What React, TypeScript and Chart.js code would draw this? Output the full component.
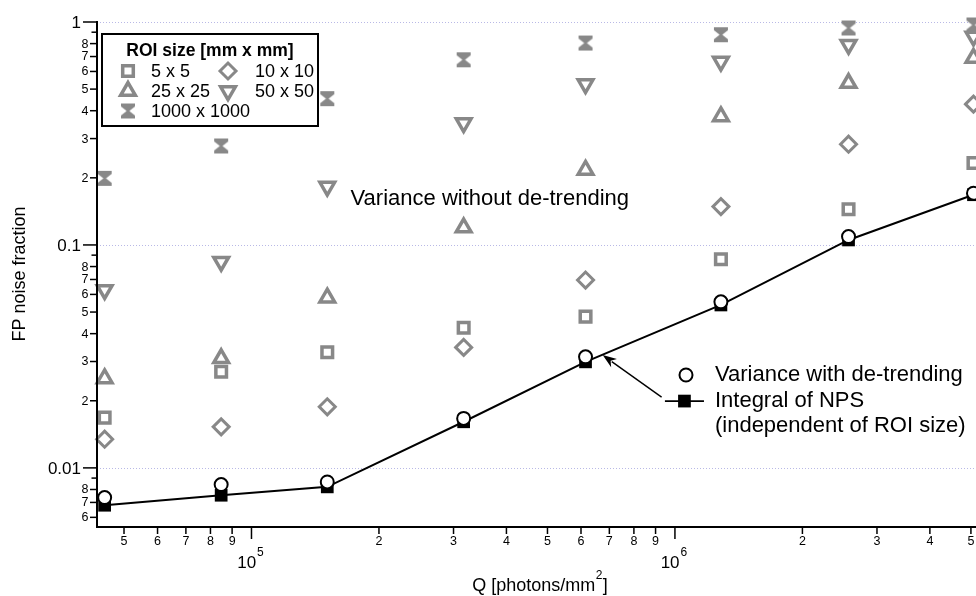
import React, { useEffect, useRef } from 'react';
import { Chart, registerables } from 'chart.js';
import { drawPoint } from 'chart.js/helpers';

Chart.register(...registerables);

// ---------------- data ----------------
const qValues = [45000, 84800, 151000, 317000, 615000, 1284000, 2570000, 5070000];

const roi5x5 = [0.0168, 0.027, 0.033, 0.0425, 0.0477, 0.0863, 0.1446, 0.233];
const roi10x10 = [0.01345, 0.01528, 0.0188, 0.0347, 0.0696, 0.1486, 0.283, 0.428];
const roi25x25 = [0.0252, 0.031, 0.058, 0.1196, 0.217, 0.377, 0.532, 0.689];
const roi50x50 = [0.0628, 0.0841, 0.1827, 0.352, 0.527, 0.665, 0.791, 0.862];
const roi1000x1000 = [0.199, 0.278, 0.453, 0.677, 0.805, 0.877, 0.94, 0.97];
const varianceDetrended = [0.00736, 0.00842, 0.00865, 0.01667, 0.0315, 0.0556, 0.109, 0.1706];
const integralNPS = [0.0068, 0.00754, 0.00822, 0.0161, 0.0299, 0.0538, 0.1053, 0.168];

const roiLabels = ['5 x 5', '10 x 10', '25 x 25', '50 x 50', '1000 x 1000'];
const legendTitle = 'ROI size [mm x mm]';
const yTitle = 'FP noise fraction';
const xTitleMain = 'Q [photons/mm';
const xTitleSup = '2';
const xTitleEnd = ']';
const noteWithout = 'Variance without de-trending';
const noteWith = 'Variance with de-trending';
const noteNPS1 = 'Integral of NPS';
const noteNPS2 = '(independent of ROI size)';

const xMinorTicks = [5e4, 6e4, 7e4, 8e4, 9e4, 2e5, 3e5, 4e5, 5e5, 6e5, 7e5, 8e5, 9e5, 2e6, 3e6, 4e6, 5e6];
const xMinorLabels = ['5', '6', '7', '8', '9', '2', '3', '4', '5', '6', '7', '8', '9', '2', '3', '4', '5'];
const xMajorTicks = [1e5, 1e6];
const xMajorExps = ['5', '6'];

const yMajorTicks = [0.01, 0.1, 1];
const yMajorLabels = ['0.01', '0.1', '1'];
const yMinorTicks = [0.006, 0.007, 0.008, 0.009, 0.02, 0.03, 0.04, 0.05, 0.06, 0.07, 0.08, 0.09, 0.2, 0.3, 0.4, 0.5, 0.6, 0.7, 0.8, 0.9];
const yMinorLabels = ['6', '7', '8', '', '2', '3', '4', '5', '6', '7', '8', '', '2', '3', '4', '5', '6', '7', '8', ''];

const X_MIN = 43170;
const X_MAX = 5140000;
const Y_MIN = 0.005487;
const Y_MAX = 1;

// annotation anchors in data units
const noteWithoutPos = { x: 171400, y: 0.1609 };
const noteCirclePos = { x: 1062000, y: 0.0261 };
const noteTextX = 1243000;
const noteLineY = [0.0261, 0.01994, 0.01539];
const noteSquareLine = { x1: 947000, x2: 1171000 };
const arrowFrom = { x: 930000, y: 0.02077 };
const arrowTo = { x: 675000, y: 0.03207 };

// ---------------- styles ----------------
const FONT = '"Liberation Sans", Arial, Helvetica, sans-serif';
const GRAY = '#888888';

function makeHourglass(): HTMLCanvasElement {
  const c = document.createElement('canvas');
  c.width = 16;
  c.height = 17;
  const g = c.getContext('2d')!;
  g.fillStyle = GRAY;
  g.beginPath();
  g.moveTo(1, 1);
  g.lineTo(15, 1);
  g.lineTo(15, 4);
  g.lineTo(9.3, 8.5);
  g.lineTo(15, 13);
  g.lineTo(15, 16);
  g.lineTo(1, 16);
  g.lineTo(1, 13);
  g.lineTo(6.7, 8.5);
  g.lineTo(1, 4);
  g.closePath();
  g.fill();
  return c;
}

export default function App() {
  const ref = useRef<HTMLCanvasElement | null>(null);

  useEffect(() => {
    const canvas = ref.current;
    if (!canvas) return;
    const hourglass = makeHourglass();

    const markerDefs: any[] = [
      { pointStyle: 'rect', radius: 7.5, rotation: 0, borderWidth: 3.5 },
      { pointStyle: 'rectRot', radius: 8, rotation: 0, borderWidth: 3 },
      { pointStyle: 'triangle', radius: 8.5, rotation: 0, borderWidth: 3.5 },
      { pointStyle: 'triangle', radius: 8.5, rotation: 180, borderWidth: 3.5 },
      { pointStyle: hourglass, radius: 8, rotation: 0, borderWidth: 0 },
    ];
    const roiData = [roi5x5, roi10x10, roi25x25, roi50x50, roi1000x1000];

    const pts = (ys: number[]) => qValues.map((q, i) => ({ x: q, y: ys[i] }));

    const datasets: any[] = [
      {
        label: noteWith,
        data: pts(varianceDetrended),
        showLine: false,
        pointStyle: 'circle',
        pointRadius: 6.5,
        pointBorderWidth: 2,
        pointBackgroundColor: '#ffffff',
        pointBorderColor: '#000000',
        clip: false,
      },
      {
        label: noteNPS1,
        data: pts(integralNPS),
        showLine: true,
        borderColor: '#000000',
        borderWidth: 2,
        pointStyle: 'rect',
        pointRadius: 9,
        pointBorderWidth: 0,
        pointBackgroundColor: '#000000',
        pointBorderColor: '#000000',
        clip: false,
      },
    ];
    roiData.forEach((d, i) => {
      const m = markerDefs[i];
      datasets.push({
        label: roiLabels[i],
        data: pts(d),
        showLine: false,
        pointStyle: m.pointStyle,
        pointRadius: m.radius,
        pointRotation: m.rotation,
        pointBorderWidth: m.borderWidth,
        pointBackgroundColor: 'rgba(0,0,0,0)',
        pointBorderColor: GRAY,
        clip: false,
      });
    });

    const decor = {
      id: 'decor',
      beforeDatasetsDraw(chart: any) {
        const { ctx, chartArea } = chart;
        const ys = chart.scales.y;
        ctx.save();
        ctx.strokeStyle = '#b9b9e6';
        ctx.lineWidth = 1;
        ctx.setLineDash([1, 2]);
        yMajorTicks.forEach((v) => {
          const py = Math.round(ys.getPixelForValue(v)) + 0.5;
          ctx.beginPath();
          ctx.moveTo(chartArea.left, py);
          ctx.lineTo(chartArea.right, py);
          ctx.stroke();
        });
        ctx.restore();
      },
      afterDatasetsDraw(chart: any) {
        const { ctx, chartArea } = chart;
        const xs = chart.scales.x;
        const ys = chart.scales.y;
        const L = chartArea.left;
        const B = chartArea.bottom;
        ctx.save();
        ctx.setLineDash([]);
        ctx.strokeStyle = '#000';
        ctx.fillStyle = '#000';

        // axis lines
        ctx.lineWidth = 2;
        ctx.beginPath();
        ctx.moveTo(L, chartArea.top - 1);
        ctx.lineTo(L, B + 1);
        ctx.lineTo(chartArea.right, B + 1);
        ctx.stroke();

        // y ticks
        ctx.lineWidth = 1.5;
        yMajorTicks.forEach((v, i) => {
          const py = ys.getPixelForValue(v);
          ctx.beginPath();
          ctx.moveTo(L - 14, py);
          ctx.lineTo(L, py);
          ctx.stroke();
          ctx.font = `17px ${FONT}`;
          ctx.textAlign = 'right';
          ctx.textBaseline = 'middle';
          ctx.fillText(yMajorLabels[i], L - 16, py + 1);
        });
        yMinorTicks.forEach((v, i) => {
          const py = ys.getPixelForValue(v);
          const len = yMinorLabels[i] ? 7 : 5.5;
          ctx.beginPath();
          ctx.moveTo(L - len, py);
          ctx.lineTo(L, py);
          ctx.stroke();
          if (yMinorLabels[i]) {
            ctx.font = `12.5px ${FONT}`;
            ctx.textAlign = 'right';
            ctx.textBaseline = 'middle';
            ctx.fillText(yMinorLabels[i], L - 8.5, py + 0.5);
          }
        });

        // x ticks
        xMinorTicks.forEach((v, i) => {
          const px = xs.getPixelForValue(v);
          ctx.beginPath();
          ctx.moveTo(px, B + 1);
          ctx.lineTo(px, B + 8);
          ctx.stroke();
          ctx.font = `12.5px ${FONT}`;
          ctx.textAlign = 'center';
          ctx.textBaseline = 'middle';
          ctx.fillText(xMinorLabels[i], px, B + 16);
        });
        xMajorTicks.forEach((v, i) => {
          const px = xs.getPixelForValue(v);
          ctx.beginPath();
          ctx.moveTo(px, B + 1);
          ctx.lineTo(px, B + 13);
          ctx.stroke();
          ctx.font = `17px ${FONT}`;
          const wBase = ctx.measureText('10').width;
          ctx.font = `12px ${FONT}`;
          const wExp = ctx.measureText(xMajorExps[i]).width;
          const start = px - (wBase + wExp + 1) / 2 - 1;
          ctx.textAlign = 'left';
          ctx.textBaseline = 'middle';
          ctx.font = `17px ${FONT}`;
          ctx.fillText('10', start, B + 37);
          ctx.font = `12px ${FONT}`;
          ctx.fillText(xMajorExps[i], start + wBase + 1, B + 27);
        });

        // axis titles
        ctx.font = `18px ${FONT}`;
        const w1 = ctx.measureText(xTitleMain).width;
        const w3 = ctx.measureText(xTitleEnd).width;
        ctx.font = `12px ${FONT}`;
        const w2 = ctx.measureText(xTitleSup).width;
        const total = w1 + w2 + w3 + 1;
        const cx = 540;
        let tx = cx - total / 2;
        ctx.textAlign = 'left';
        ctx.textBaseline = 'middle';
        ctx.font = `18px ${FONT}`;
        ctx.fillText(xTitleMain, tx, 586);
        tx += w1;
        ctx.font = `12px ${FONT}`;
        ctx.fillText(xTitleSup, tx + 0.5, 576);
        tx += w2 + 1;
        ctx.font = `18px ${FONT}`;
        ctx.fillText(xTitleEnd, tx, 586);

        ctx.save();
        ctx.translate(20, (chartArea.top + chartArea.bottom) / 2);
        ctx.rotate(-Math.PI / 2);
        ctx.textAlign = 'center';
        ctx.textBaseline = 'middle';
        ctx.font = `18px ${FONT}`;
        ctx.fillText(yTitle, 0, 0);
        ctx.restore();

        // ROI legend box
        const bx = 102, by = 34, bw = 216, bh = 92;
        ctx.fillStyle = '#fff';
        ctx.fillRect(bx, by, bw, bh);
        ctx.lineWidth = 2;
        ctx.strokeStyle = '#000';
        ctx.strokeRect(bx, by, bw, bh);
        ctx.fillStyle = '#000';
        ctx.font = `bold 17.5px ${FONT}`;
        ctx.textAlign = 'center';
        ctx.textBaseline = 'middle';
        ctx.fillText(legendTitle, bx + bw / 2, 51);
        const slots = [
          { mx: 128, tx: 151, y: 71 },
          { mx: 228, tx: 255, y: 71 },
          { mx: 128, tx: 151, y: 91 },
          { mx: 228, tx: 255, y: 91 },
          { mx: 128, tx: 151, y: 111 },
        ];
        slots.forEach((s, i) => {
          const m = markerDefs[i];
          ctx.save();
          ctx.fillStyle = 'rgba(0,0,0,0)';
          ctx.strokeStyle = GRAY;
          ctx.lineWidth = m.borderWidth;
          drawPoint(ctx, { pointStyle: m.pointStyle, rotation: m.rotation, radius: m.radius, borderWidth: m.borderWidth } as any, s.mx, s.y);
          ctx.restore();
          ctx.fillStyle = '#000';
          ctx.font = `18px ${FONT}`;
          ctx.textAlign = 'left';
          ctx.textBaseline = 'middle';
          ctx.fillText(roiLabels[i], s.tx, s.y + 1);
        });

        // annotations
        ctx.fillStyle = '#000';
        ctx.font = `22px ${FONT}`;
        ctx.textAlign = 'left';
        ctx.textBaseline = 'middle';
        ctx.fillText(noteWithout, xs.getPixelForValue(noteWithoutPos.x), ys.getPixelForValue(noteWithoutPos.y));

        const ntx = xs.getPixelForValue(noteTextX);
        ctx.fillText(noteWith, ntx, ys.getPixelForValue(noteLineY[0]));
        ctx.fillText(noteNPS1, ntx, ys.getPixelForValue(noteLineY[1]));
        ctx.fillText(noteNPS2, ntx, ys.getPixelForValue(noteLineY[2]));

        // circle symbol
        ctx.save();
        ctx.lineWidth = 2;
        ctx.strokeStyle = '#000';
        ctx.fillStyle = '#fff';
        drawPoint(ctx, { pointStyle: 'circle', radius: 6.5, borderWidth: 2, rotation: 0 } as any, xs.getPixelForValue(noteCirclePos.x), ys.getPixelForValue(noteCirclePos.y));
        ctx.restore();

        // line + square symbol
        const sy = ys.getPixelForValue(noteLineY[1]);
        const sx1 = xs.getPixelForValue(noteSquareLine.x1);
        const sx2 = xs.getPixelForValue(noteSquareLine.x2);
        ctx.lineWidth = 1.8;
        ctx.strokeStyle = '#000';
        ctx.beginPath();
        ctx.moveTo(sx1, sy);
        ctx.lineTo(sx2, sy);
        ctx.stroke();
        ctx.save();
        ctx.fillStyle = '#000';
        drawPoint(ctx, { pointStyle: 'rect', radius: 9, borderWidth: 0, rotation: 0 } as any, (sx1 + sx2) / 2, sy);
        ctx.restore();

        // arrow
        const ax1 = xs.getPixelForValue(arrowFrom.x);
        const ay1 = ys.getPixelForValue(arrowFrom.y);
        const ax2 = xs.getPixelForValue(arrowTo.x);
        const ay2 = ys.getPixelForValue(arrowTo.y);
        const ang = Math.atan2(ay2 - ay1, ax2 - ax1);
        const hl = 14, hw = 5;
        ctx.lineWidth = 1.4;
        ctx.beginPath();
        ctx.moveTo(ax1, ay1);
        ctx.lineTo(ax2 - Math.cos(ang) * hl * 0.8, ay2 - Math.sin(ang) * hl * 0.8);
        ctx.stroke();
        ctx.beginPath();
        ctx.moveTo(ax2, ay2);
        ctx.lineTo(ax2 - Math.cos(ang) * hl - Math.sin(ang) * hw, ay2 - Math.sin(ang) * hl + Math.cos(ang) * hw);
        ctx.lineTo(ax2 - Math.cos(ang) * hl * 0.7, ay2 - Math.sin(ang) * hl * 0.7);
        ctx.lineTo(ax2 - Math.cos(ang) * hl + Math.sin(ang) * hw, ay2 - Math.sin(ang) * hl - Math.cos(ang) * hw);
        ctx.closePath();
        ctx.fill();

        ctx.restore();
      },
    };

    const chart = new Chart(canvas, {
      type: 'scatter',
      data: { datasets },
      options: {
        animation: false,
        responsive: false,
        devicePixelRatio: 1,
        layout: { autoPadding: false, padding: { left: 97, top: 22, right: 0, bottom: 70 } },
        plugins: { legend: { display: false }, tooltip: { enabled: false } },
        scales: {
          x: { type: 'logarithmic', min: X_MIN, max: X_MAX, display: false },
          y: { type: 'logarithmic', min: Y_MIN, max: Y_MAX, display: false },
        },
      },
      plugins: [decor],
    } as any);

    return () => chart.destroy();
  }, []);

  return (
    <div style={{ position: 'absolute', left: 0, top: 0, width: 976, height: 596, background: '#fff' }}>
      <canvas ref={ref} width={976} height={596} style={{ display: 'block' }} />
    </div>
  );
}
